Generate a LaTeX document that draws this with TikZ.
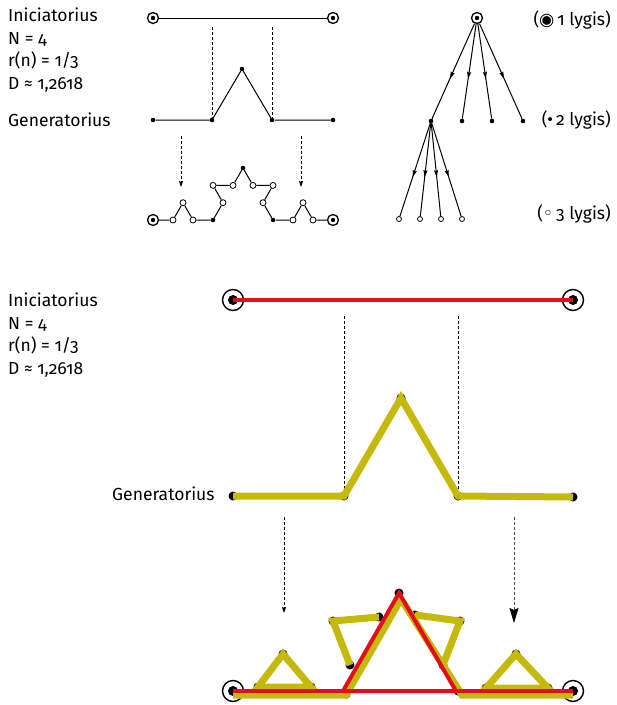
\documentclass[tikz,border=0pt]{standalone}
\usepackage{fontspec}
\setmainfont{Fira Sans}[Numbers=OldStyle]
\newfontfamily\symfont{DejaVu Sans}
\usetikzlibrary{arrows.meta,decorations.markings}
\definecolor{kochred}{RGB}{227,12,26}
\definecolor{kocholive}{RGB}{197,185,12}

\begin{document}
\begin{tikzpicture}[x=1pt, y=-1pt,
        font=\fontsize{17.5}{20}\selectfont,
        lbl/.style={anchor=base west, inner sep=0pt},
        rlbl/.style={anchor=base east, inner sep=0pt},
        ring/.style={circle, draw, line width=1.3pt, minimum size=11pt, inner sep=0pt,
            path picture={\fill (path picture bounding box.center) circle (2.2pt);}},
        bigring/.style={circle, draw, line width=1.4pt, minimum size=21pt, inner sep=0pt,
            path picture={\fill (path picture bounding box.center) circle (5pt);}},
        gdot/.style={circle, fill, minimum size=4.6pt, inner sep=0pt},
        odot/.style={circle, draw, fill=white, line width=0.8pt, minimum size=6pt, inner sep=0pt},
        bdot/.style={circle, fill, minimum size=9pt, inner sep=0pt},
        thin line/.style={line width=1pt},
        dashline/.style={line width=0.7pt, dash pattern=on 3pt off 2pt},
        dasharrow/.style={dashline, -{Stealth[length=6pt, width=4pt, inset=1pt]}},
        bigdasharrow/.style={dashline, black!70, -{Stealth[length=15pt, width=9pt, inset=2pt, black]}},
        midarrow/.style={line width=1pt, postaction={decorate}, decoration={markings,
            mark=at position 0.58 with {\arrow{Stealth[length=7pt, width=4pt, inset=1pt]}}}},
        redline/.style={line width=4.5pt, kochred},
        oliveline/.style={line width=7pt, kocholive}
    ]
        \useasboundingbox (0,0) rectangle (617,705);

        % upper half: labels
        \node[lbl] (ini) at (8,21) {Iniciatorius};
        \node[lbl] (nn) at (8,44) {N = 4};
        \node[lbl] (rn) at (8,66.5) {r(n) = 1/3};
        \node[lbl] (dd) at (8,89) {D ≈ 1,2618};
        \node[lbl] (gen) at (8,126) {Generatorius};

        \node[ring] (i1) at (153,18) {};
        \node[ring] (i2) at (333,18) {};
        \draw[thin line] (i1) -- (i2);

        \node[gdot] (g0) at (153,120) {};
        \node[gdot] (g1) at (212,120) {};
        \node[gdot] (g2) at (242,69) {};
        \node[gdot] (g3) at (272,120) {};
        \node[gdot] (g4) at (333,120) {};
        \draw[thin line] (g0) -- (g1) -- (g2) -- (g3) -- (g4);

        \coordinate (v1) at (212,27);
        \coordinate (v2) at (272,27);
        \draw[dashline] (v1) -- (g1);
        \draw[dashline] (v2) -- (g3);

        \coordinate (a1) at (181,136);
        \coordinate (a2) at (181,187);
        \coordinate (a3) at (301,136);
        \coordinate (a4) at (301,187);
        \draw[dasharrow] (a1) -- (a2);
        \draw[dasharrow] (a3) -- (a4);

        % level two curve
        \node[ring] (k0) at (153,220) {};
        \node[odot] (k1) at (173,220) {};
        \node[odot] (k2) at (183,202.7) {};
        \node[odot] (k3) at (193,220) {};
        \node[gdot] (k4) at (213,220) {};
        \node[odot] (k5) at (223,202.7) {};
        \node[odot] (k6) at (213,185.4) {};
        \node[odot] (k7) at (233,185.4) {};
        \node[gdot] (k8) at (243,168) {};
        \node[odot] (k9) at (253,185.4) {};
        \node[odot] (k10) at (273,185.4) {};
        \node[odot] (k11) at (263,202.7) {};
        \node[gdot] (k12) at (273,220) {};
        \node[odot] (k13) at (293,220) {};
        \node[odot] (k14) at (303,202.7) {};
        \node[odot] (k15) at (313,220) {};
        \node[ring] (k16) at (333,220) {};
        \draw[thin line] (k0) -- (k1) -- (k2) -- (k3) -- (k4) -- (k5) -- (k6) -- (k7) -- (k8)
            -- (k9) -- (k10) -- (k11) -- (k12) -- (k13) -- (k14) -- (k15) -- (k16);

        % tree of levels
        \node[ring] (root) at (477,18) {};
        \node[gdot] (b1) at (431,121) {};
        \node[gdot] (b2) at (462,121) {};
        \node[gdot] (b3) at (492,121) {};
        \node[gdot] (b4) at (523,121) {};
        \node[odot, minimum size=5pt] (c1) at (399,219) {};
        \node[odot, minimum size=5pt] (c2) at (420,219) {};
        \node[odot, minimum size=5pt] (c3) at (441,219) {};
        \node[odot, minimum size=5pt] (c4) at (462,219) {};
        \foreach \b in {b1,b2,b3,b4}
            \draw[midarrow] (root) -- (\b);
        \foreach \c in {c1,c2,c3,c4}
            \draw[midarrow] (b1) -- (\c);

        \node[rlbl] (lv1) at (611,25) {({\symfont ◉}\,1 lygis)};
        \node[rlbl] (lv2) at (611,125) {(•\,2 lygis)};
        \node[rlbl] (lv3) at (611,219) {({\symfont ◦}\,3 lygis)};

        % lower half: labels
        \node[lbl] (ini2) at (8,306) {Iniciatorius};
        \node[lbl] (nn2) at (8,329) {N = 4};
        \node[lbl] (rn2) at (8,351.5) {r(n) = 1/3};
        \node[lbl] (dd2) at (8,374) {D ≈ 1,2618};
        \node[lbl] (gen2) at (112,500) {Generatorius};

        \node[bigring] (m1) at (233,300) {};
        \node[bigring] (m2) at (573,300) {};
        \draw[redline] (m1.center) -- (m2.center);

        \node[bdot] (n0) at (233,496) {};
        \node[bdot] (n1) at (344,496) {};
        \node[bdot] (n2) at (401,398) {};
        \node[bdot] (n3) at (458,496) {};
        \node[bdot] (n4) at (573,497) {};
        \coordinate (w1) at (344,316);
        \coordinate (w2) at (458,316);
        \draw[dashline] (w1) -- (n1.center);
        \draw[dashline] (w2) -- (n3.center);
        \draw[oliveline] (n0.center) -- (n1.center) -- (n2.center) -- (n3.center) -- (n4.center);

        \coordinate (s1) at (284,517);
        \coordinate (s2) at (284,613);
        \coordinate (s3) at (514,517);
        \coordinate (s4) at (514,623);
        \draw[dasharrow] (s1) -- (s2);
        \draw[bigdasharrow] (s3) -- (s4);

        % lower half: curve over the generator
        \node[bdot] (t1a) at (258,687) {};
        \node[bdot] (t1b) at (283,654) {};
        \node[bdot] (t1c) at (311,687) {};
        \node[bdot] (t2a) at (379,617) {};
        \node[bdot] (t2b) at (333,621) {};
        \node[bdot] (t2c) at (350,665) {};
        \node[bdot] (t3a) at (415,615) {};
        \node[bdot] (t3b) at (460,621) {};
        \node[bdot] (t3c) at (443,665) {};
        \node[bdot] (t4a) at (486,688) {};
        \node[bdot] (t4b) at (516,654) {};
        \node[bdot] (t4c) at (548,688) {};
        \node[bdot] (p1) at (346,694) {};
        \node[bdot] (p2) at (399,593) {};
        \node[bdot] (p3) at (458,691) {};
        \node[bigring] (q0) at (233,691) {};
        \node[bigring] (q4) at (573,691) {};

        \draw[oliveline] (t1a.center) -- (t1b.center) -- (t1c.center) -- cycle;
        \draw[oliveline] (t2a.center) -- (t2b.center) -- (t2c.center);
        \draw[oliveline] (t3a.center) -- (t3b.center) -- (t3c.center);
        \draw[oliveline] (t4a.center) -- (t4b.center) -- (t4c.center) -- cycle;

        \coordinate (y0) at (233,695);
        \coordinate (y1) at (346,695);
        \coordinate (y2) at (401,599);
        \coordinate (y3) at (462,695);
        \coordinate (y4) at (573,695);
        \draw[oliveline] (y0) -- (y1) -- (y2) -- (y3) -- (y4);

        \coordinate (r1) at (343,691);
        \coordinate (r2) at (399,593);
        \coordinate (r3) at (456,691);
        \draw[redline, line width=4pt] (q0.center) -- (q4.center);
        \draw[redline, line width=4pt] (r1) -- (r2) -- (r3);
    \end{tikzpicture}
\end{document}
